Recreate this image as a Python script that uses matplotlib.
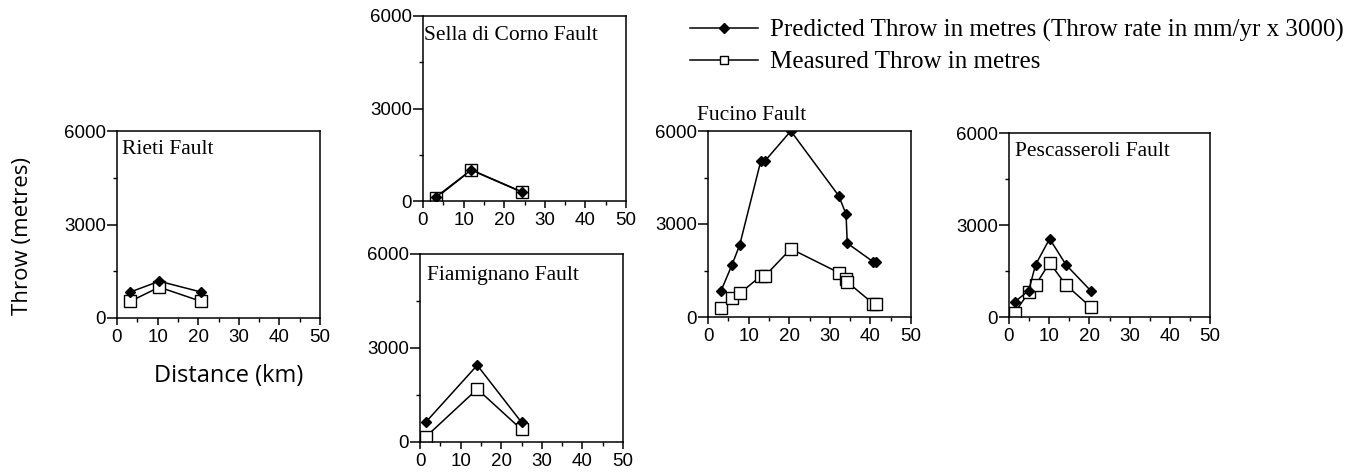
import numpy as np
import matplotlib
matplotlib.use('Agg')
import matplotlib.pyplot as plt
from matplotlib.lines import Line2D

# distance along strike (km) and throw (m) for each fault
rieti_x = [3.2, 10.4, 20.8]
rieti_pred = [830, 1180, 830]
rieti_meas = [530, 990, 530]

sella_x = [3.3, 11.9, 24.5]
sella_pred = [140, 1010, 290]
sella_meas = [110, 1000, 280]

fiam_x = [1.4, 14.1, 25.0]
fiam_pred = [630, 2450, 630]
fiam_meas = [160, 1690, 400]

fucino_x = [3.2, 5.9, 7.8, 13.0, 14.0, 20.4, 32.2, 34.0, 34.3, 40.7, 41.5]
fucino_pred = [840, 1680, 2320, 5030, 5030, 6000, 3910, 3320, 2380, 1780, 1780]
fucino_meas = [300, 600, 760, 1320, 1320, 2200, 1430, 1215, 1130, 430, 430]

pesc_x = [1.4, 4.9, 6.6, 10.1, 14.2, 20.3]
pesc_pred = [490, 860, 1700, 2550, 1700, 860]
pesc_meas = [140, 800, 1040, 1770, 1040, 330]

serif = 'Liberation Serif'
sans = 'Liberation Sans'

fig = plt.figure(figsize=(13.58, 4.75), dpi=100)

W, H = 1358, 475
def box(l, t, r, b):
    return [l / W, (H - b) / H, (r - l) / W, (b - t) / H]

def panel(rect, x, pred, meas, title, tx=0.03, ty=0.94, va='top'):
    ax = fig.add_axes(rect)
    ax.plot(x, pred, color='black', lw=1.1, marker='D', ms=5.5,
            mfc='black', mec='black', zorder=3)
    ax.plot(x, meas, color='black', lw=1.1, marker='s', ms=8,
            mfc='white', mec='black', mew=1.0, zorder=2)
    ax.set_xlim(0, 50)
    ax.set_ylim(0, 6000)
    ax.set_xticks([0, 10, 20, 30, 40, 50])
    ax.set_xticks([5, 15, 25, 35, 45], minor=True)
    ax.set_yticks([0, 3000, 6000])
    ax.set_yticks([1500, 4500], minor=True)
    ax.tick_params(which='major', direction='out', width=1.1, labelsize=13.5)
    ax.tick_params(axis='x', which='major', length=5, pad=3)
    ax.tick_params(axis='y', which='major', length=7, pad=1)
    ax.tick_params(which='minor', direction='out', length=3, width=1.0)
    for lab in ax.get_xticklabels() + ax.get_yticklabels():
        lab.set_fontfamily(sans)
    for s in ax.spines.values():
        s.set_linewidth(1.1)
    ax.text(tx, ty, title, transform=ax.transAxes, ha='left', va=va,
            fontsize=15.5, fontfamily=serif)
    return ax

ax1 = panel(box(117, 131, 320, 318), rieti_x, rieti_pred, rieti_meas,
            'Rieti Fault', tx=0.025, ty=0.95)
ax1.set_ylabel('Throw (metres)', fontsize=16, fontfamily='Open Sans')
ax1.yaxis.set_label_coords(-0.414, 0.44)
ax1.set_xlabel('Distance (km)', fontsize=17, fontfamily='Open Sans')
ax1.xaxis.set_label_coords(0.55, -0.245)

panel(box(423, 16, 626, 201), sella_x, sella_pred, sella_meas,
      'Sella di Corno Fault', tx=0.005, ty=0.945)
panel(box(420, 254, 623, 442), fiam_x, fiam_pred, fiam_meas,
      'Fiamignano Fault', tx=0.035, ty=0.935)
panel(box(708, 131, 911, 317), fucino_x, fucino_pred, fucino_meas,
      'Fucino Fault', tx=-0.054, ty=1.06, va='baseline')
panel(box(1009, 133, 1210, 317), pesc_x, pesc_pred, pesc_meas,
      'Pescasseroli Fault', tx=0.03, ty=0.95)

handles = [
    Line2D([], [], color='black', lw=1.1, marker='D', ms=5, mfc='black'),
    Line2D([], [], color='black', lw=1.1, marker='s', ms=5.5, mfc='white'),
]
labels = ['Predicted Throw in metres (Throw rate in mm/yr x 3000)',
          'Measured Throw in metres']
fig.legend(handles, labels, loc='upper left', bbox_to_anchor=(690 / W, 1 - 19 / H),
           frameon=False, borderpad=0, borderaxespad=0,
           handlelength=2.7, handletextpad=0.5,
           labelspacing=0.35, prop={'family': serif, 'size': 18})

fig.savefig('out.png', dpi=100)
